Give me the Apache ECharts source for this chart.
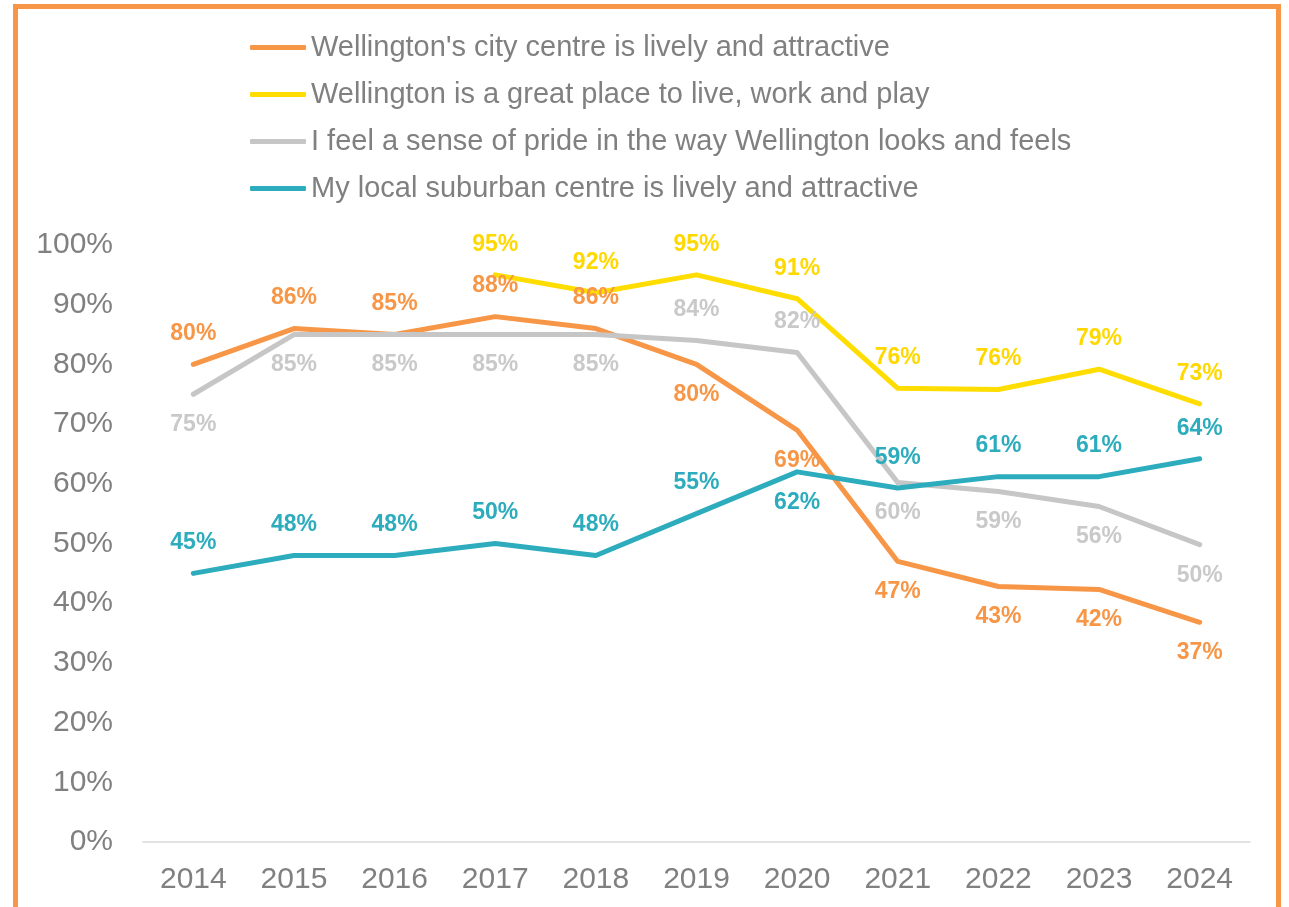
<!DOCTYPE html>
<html>
<head>
<meta charset="utf-8">
<script src="https://cdn.jsdelivr.net/npm/echarts@6/dist/echarts.min.js"></script>
<style>
  html, body { margin: 0; padding: 0; background: #fff; }
  #chart { width: 1289px; height: 907px; }
</style>
</head>
<body>
<div id="chart"></div>
<script>
var years = ['2014', '2015', '2016', '2017', '2018', '2019', '2020', '2021', '2022', '2023', '2024'];

var cityCentre = [80, 86, 85, 88, 86, 80, 69, 47, 42.8, 42.3, 36.8];
var greatPlace = [null, null, null, 95, 92, 95, 91, 76, 75.8, 79.2, 73.4];
var pride = [75, 85, 85, 85, 85, 84, 82, 60.2, 58.7, 56.2, 49.8];
var suburban = [45, 48, 48, 50, 48, 55, 62, 59.3, 61.2, 61.2, 64.2];

var names = [
  "Wellington's city centre is lively and attractive",
  'Wellington is a great place to live, work and play',
  'I feel a sense of pride in the way Wellington looks and feels',
  'My local suburban centre is lively and attractive'
];

// where each data label sits relative to its point
var posCity = ['top', 'top', 'top', 'top', 'top', 'bottom', 'bottom', 'bottom', 'bottom', 'bottom', 'bottom'];
var posGreat = ['top', 'top', 'top', 'top', 'top', 'top', 'top', 'top', 'top', 'top', 'top'];
var posPride = ['bottom', 'bottom', 'bottom', 'bottom', 'bottom', 'top', 'top', 'bottom', 'bottom', 'bottom', 'bottom'];
var posSub = ['top', 'top', 'top', 'top', 'top', 'top', 'bottom', 'top', 'top', 'top', 'top'];

var chart = echarts.init(document.getElementById('chart'));

function makeSeries(name, values, positions, color, labelColor) {
  return {
    name: name,
    type: 'line',
    data: values.map(function (v, i) {
      return { value: v, label: { position: positions[i] } };
    }),
    symbol: 'circle',
    symbolSize: 0.1,
    showSymbol: true,
    connectNulls: false,
    itemStyle: { color: color },
    lineStyle: { color: color, width: 5, cap: 'round', join: 'round' },
    label: {
      show: true,
      distance: 19,
      color: labelColor,
      fontFamily: 'Liberation Sans, Arial, sans-serif',
      fontWeight: 'bold',
      fontSize: 23,
      formatter: function (p) { return Math.round(p.value) + '%'; }
    },
    emphasis: { disabled: true },
    animation: false
  };
}

var option = {
  backgroundColor: '#fff',
  animation: false,
  graphic: [{
    type: 'rect',
    shape: { x: 15.5, y: 6.5, width: 1263, height: 1000 },
    style: { fill: 'none', stroke: '#F79646', lineWidth: 5 },
    silent: true
  }],
  legend: {
    orient: 'vertical',
    left: 245,
    top: 28,
    icon: 'roundRect',
    itemWidth: 56,
    itemHeight: 5,
    itemGap: 18,
    textStyle: {
      color: '#808080',
      fontSize: 29,
      fontFamily: 'Liberation Sans, Arial, sans-serif'
    },
    data: names
  },
  grid: { left: 143, right: 39, top: 245, bottom: 65 },
  xAxis: {
    type: 'category',
    data: years,
    boundaryGap: true,
    axisLine: { lineStyle: { color: '#D9D9D9', width: 1.5 } },
    axisTick: { show: false },
    axisLabel: {
      color: '#808080',
      fontSize: 30,
      margin: 23,
      fontFamily: 'Liberation Sans, Arial, sans-serif'
    }
  },
  yAxis: {
    type: 'value',
    min: 0,
    max: 100,
    interval: 10,
    axisLine: { show: false },
    axisTick: { show: false },
    splitLine: { show: false },
    axisLabel: {
      color: '#808080',
      fontSize: 30,
      margin: 30,
      fontFamily: 'Liberation Sans, Arial, sans-serif',
      formatter: '{value}%'
    }
  },
  series: [
    makeSeries(names[0], cityCentre, posCity, '#F79646', '#F79646'),
    makeSeries(names[1], greatPlace, posGreat, '#FFDD00', '#FFD800'),
    makeSeries(names[2], pride, posPride, '#C6C6C6', '#C9C9C9'),
    makeSeries(names[3], suburban, posSub, '#2CACBC', '#2CACBC')
  ]
};

chart.setOption(option);
</script>
</body>
</html>
